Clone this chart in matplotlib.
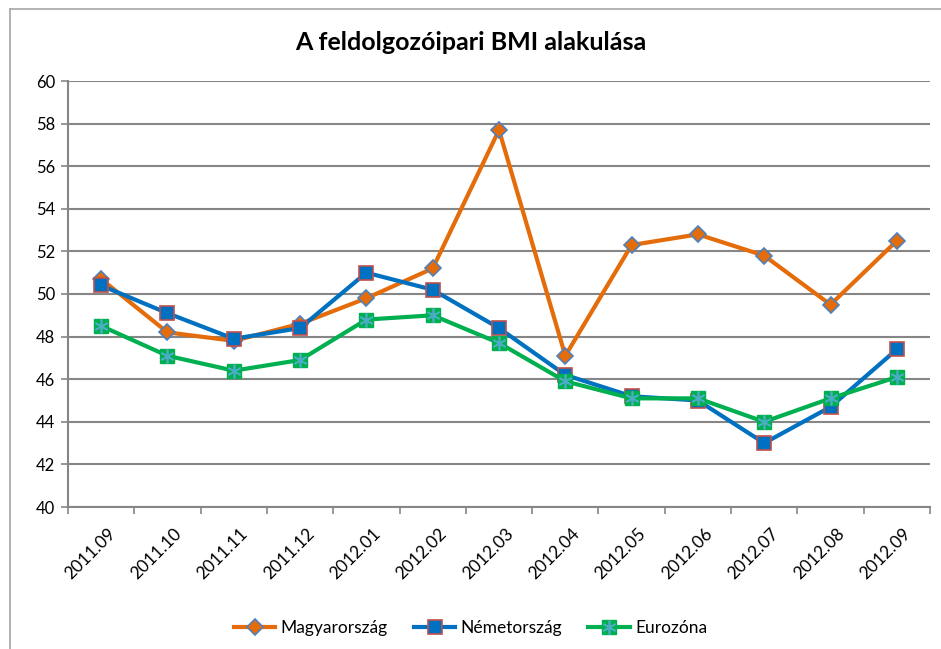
import matplotlib
matplotlib.use("Agg")
import matplotlib.pyplot as plt
from matplotlib.lines import Line2D
from matplotlib.legend_handler import HandlerTuple
import matplotlib.transforms as mtransforms

plt.rcParams['font.family'] = ['Lato', 'DejaVu Sans']

months = ["2011.09", "2011.10", "2011.11", "2011.12", "2012.01", "2012.02", "2012.03",
          "2012.04", "2012.05", "2012.06", "2012.07", "2012.08", "2012.09"]
hu = [50.7, 48.2, 47.8, 48.6, 49.8, 51.2, 57.7, 47.1, 52.3, 52.8, 51.8, 49.5, 52.5]
de = [50.4, 49.1, 47.9, 48.4, 51.0, 50.2, 48.4, 46.2, 45.2, 45.0, 43.0, 44.7, 47.4]
ez = [48.5, 47.1, 46.4, 46.9, 48.8, 49.0, 47.7, 45.9, 45.1, 45.1, 44.0, 45.1, 46.1]
yticks = list(range(40, 61, 2))

fig = plt.figure(figsize=(9.41, 6.49), dpi=100)
ax = fig.add_axes([68 / 941, 1 - 507 / 649, 862 / 941, 426 / 649])

x = list(range(len(months)))
h1, = ax.plot(x, hu, color="#E46C0A", lw=3, marker="D", ms=8.5,
              mfc="#E46C0A", mec="#4F81BD", mew=1.2, zorder=3)
h2, = ax.plot(x, de, color="#0070C0", lw=3, marker="s", ms=10,
              mfc="#0070C0", mec="#C0504D", mew=1.2, zorder=4)
h3, = ax.plot(x, ez, color="#00B050", lw=3, marker="s", ms=10,
              mfc="#00B050", mec="#00B050", mew=1, zorder=5)
h3b, = ax.plot(x, ez, ls="none", marker=(6, 2, 0), ms=10,
               mec="#4BACC6", mew=1.2, zorder=6)

ax.set_xlim(-0.5, len(months) - 0.5)
ax.set_ylim(40, 60)
ax.set_yticks(yticks)
ax.set_yticklabels([str(v) for v in yticks], fontsize=12)
ax.yaxis.grid(True, color="#868686", lw=1.5)
ax.set_axisbelow(True)

ax.set_xticks([i - 0.5 for i in range(len(months) + 1)])
ax.set_xticklabels([])
ax.set_xticks(x, minor=True)
ax.set_xticklabels(months, minor=True, rotation=45, ha="right",
                   rotation_mode="anchor", fontsize=12.5)
ax.tick_params(axis="x", which="minor", length=0, pad=13)
ax.tick_params(axis="x", which="major", length=5, color="#868686", width=1.2)
ax.tick_params(axis="y", length=5, color="#868686", width=1.2, pad=4)
shift = mtransforms.ScaledTranslation(6 / 100, 0, fig.dpi_scale_trans)
for lab in ax.get_xticklabels(minor=True):
    lab.set_transform(lab.get_transform() + shift)

for s in ["top", "right"]:
    ax.spines[s].set_visible(False)
for s in ["left", "bottom"]:
    ax.spines[s].set_color("#868686")
    ax.spines[s].set_linewidth(1.5)

fig.text(0.5, 1 - 42 / 649, "A feldolgozóipari BMI alakulása", ha="center",
         va="center", fontsize=18, fontweight="bold")

fig.legend([h1, h2, (h3, h3b)], ["Magyarország", "Németország", "Eurozóna"],
           handler_map={tuple: HandlerTuple(ndivide=1, pad=0)},
           loc="center", bbox_to_anchor=(0.5, 1 - 628 / 649), ncol=3,
           frameon=False, fontsize=12.5, handlelength=2.4, handletextpad=0.3,
           columnspacing=1.5)

# outer chart border
fig.add_artist(Line2D([10 / 941, 1], [1 - 9 / 649, 1 - 9 / 649], color="#A6A6A6", lw=1.2))
fig.add_artist(Line2D([10 / 941, 10 / 941], [0, 1 - 9 / 649], color="#A6A6A6", lw=1.2))

fig.savefig("out.png", dpi=100)
